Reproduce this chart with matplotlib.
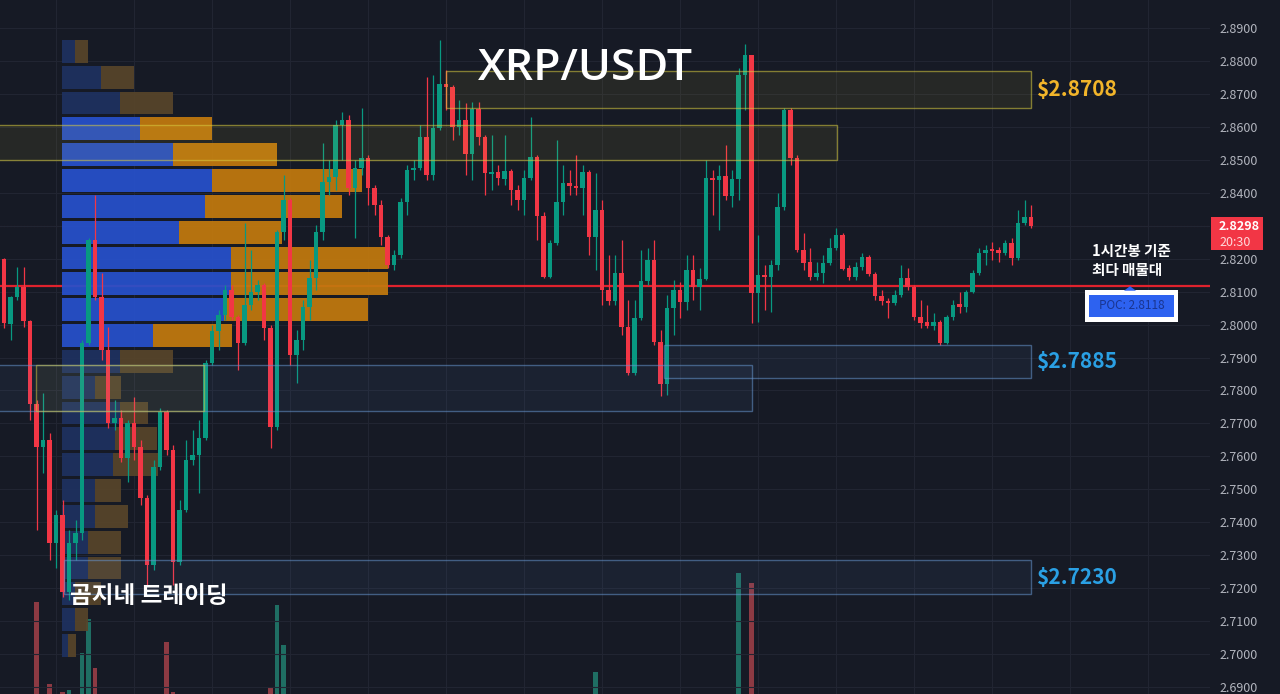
import numpy as np
import matplotlib
matplotlib.use("Agg")
import matplotlib.pyplot as plt
from matplotlib.patches import Rectangle, Polygon
from matplotlib.ticker import FormatStrFormatter
from matplotlib.transforms import blended_transform_factory

plt.rcParams['font.family'] = ['Noto Sans CJK KR', 'DejaVu Sans']

# ---- 1h XRP/USDT candles ----
opens = [2.8199, 2.8002, 2.8084, 2.8114, 2.8011, 2.7759, 2.7628, 2.7650, 2.7338, 2.7422,
         2.7189, 2.7338, 2.7368, 2.7944, 2.8257, 2.8084, 2.7923, 2.7701, 2.7716, 2.7595,
         2.7701, 2.7628, 2.7474, 2.7271, 2.7568, 2.7735, 2.7619, 2.7280, 2.7438, 2.7589,
         2.7604, 2.7656, 2.7884, 2.7981, 2.8029, 2.8105, 2.8023, 2.7944, 2.8060, 2.8099,
         2.8120, 2.7990, 2.7689, 2.8281, 2.8378, 2.7908, 2.7954, 2.8054, 2.8141, 2.8281,
         2.8433, 2.8448, 2.8606, 2.8621, 2.8415, 2.8476, 2.8506, 2.8415, 2.8363, 2.8266,
         2.8181, 2.8211, 2.8372, 2.8470, 2.8476, 2.8570, 2.8454, 2.8597, 2.8730, 2.8721,
         2.8600, 2.8621, 2.8518, 2.8655, 2.8570, 2.8458, 2.8464, 2.8442, 2.8467, 2.8409,
         2.8378, 2.8445, 2.8509, 2.8329, 2.8144, 2.8248, 2.8372, 2.8430, 2.8421, 2.8415,
         2.8464, 2.8266, 2.8348, 2.8105, 2.8072, 2.8157, 2.7993, 2.7854, 2.8020, 2.8132,
         2.8196, 2.7948, 2.7820, 2.8051, 2.8105, 2.8069, 2.8166, 2.8114, 2.8138, 2.8445,
         2.8439, 2.8451, 2.8391, 2.8442, 2.8757, 2.8818, 2.8096, 2.8150, 2.8144, 2.8181,
         2.8357, 2.8652, 2.8506, 2.8226, 2.8190, 2.8144, 2.8157, 2.8187, 2.8232, 2.8272,
         2.8172, 2.8144, 2.8175, 2.8205, 2.8154, 2.8087, 2.8072, 2.8066, 2.8090, 2.8141,
         2.8114, 2.8023, 2.8008, 2.7996, 2.8008, 2.7944, 2.8023, 2.8063, 2.8054, 2.8099,
         2.8157, 2.8217, 2.8229, 2.8226, 2.8217, 2.8248, 2.8202, 2.8308, 2.8326]
highs = [2.8202, 2.8087, 2.8175, 2.8175, 2.8014, 2.7771, 2.7793, 2.7671, 2.7438, 2.7468,
         2.7377, 2.7407, 2.7954, 2.8263, 2.8394, 2.8157, 2.7993, 2.7771, 2.7741, 2.7710,
         2.7781, 2.7650, 2.7483, 2.7589, 2.7747, 2.7741, 2.7634, 2.7468, 2.7650, 2.7680,
         2.7710, 2.7893, 2.7999, 2.8045, 2.8120, 2.8120, 2.8029, 2.8308, 2.8226, 2.8135,
         2.8126, 2.7999, 2.8287, 2.8454, 2.8385, 2.7984, 2.8075, 2.8196, 2.8302, 2.8551,
         2.8500, 2.8621, 2.8646, 2.8636, 2.8500, 2.8658, 2.8515, 2.8424, 2.8378, 2.8272,
         2.8226, 2.8385, 2.8485, 2.8500, 2.8606, 2.8751, 2.8757, 2.8864, 2.8773, 2.8727,
         2.8682, 2.8673, 2.8676, 2.8676, 2.8576, 2.8576, 2.8485, 2.8576, 2.8473, 2.8424,
         2.8470, 2.8630, 2.8515, 2.8342, 2.8257, 2.8561, 2.8485, 2.8470, 2.8515, 2.8485,
         2.8470, 2.8461, 2.8378, 2.8211, 2.8211, 2.8257, 2.8075, 2.8075, 2.8226, 2.8232,
         2.8257, 2.7984, 2.8090, 2.8135, 2.8129, 2.8211, 2.8211, 2.8172, 2.8500, 2.8470,
         2.8485, 2.8545, 2.8470, 2.8779, 2.8851, 2.8818, 2.8272, 2.8181, 2.8196, 2.8400,
         2.8658, 2.8658, 2.8515, 2.8278, 2.8232, 2.8190, 2.8211, 2.8263, 2.8293, 2.8278,
         2.8181, 2.8190, 2.8217, 2.8211, 2.8160, 2.8105, 2.8081, 2.8105, 2.8181, 2.8172,
         2.8120, 2.8075, 2.8060, 2.8036, 2.8014, 2.8029, 2.8075, 2.8099, 2.8105, 2.8166,
         2.8232, 2.8241, 2.8251, 2.8235, 2.8257, 2.8263, 2.8348, 2.8378, 2.8363]
lows = [2.7990, 2.7954, 2.8075, 2.7993, 2.7710, 2.7377, 2.7549, 2.7286, 2.7262, 2.7174,
        2.7164, 2.7286, 2.7347, 2.7938, 2.8075, 2.7893, 2.7686, 2.7680, 2.7583, 2.7522,
        2.7589, 2.7453, 2.7210, 2.7256, 2.7559, 2.7604, 2.7210, 2.7271, 2.7432, 2.7574,
        2.7489, 2.7650, 2.7878, 2.7923, 2.8014, 2.8014, 2.7863, 2.7938, 2.8045, 2.8075,
        2.7954, 2.7625, 2.7680, 2.8257, 2.7878, 2.7823, 2.7923, 2.8014, 2.8105, 2.8257,
        2.8394, 2.8409, 2.8500, 2.8394, 2.8263, 2.8454, 2.8363, 2.8332, 2.8241, 2.8172,
        2.8166, 2.8202, 2.8332, 2.8439, 2.8470, 2.8439, 2.8439, 2.8591, 2.8652, 2.8561,
        2.8576, 2.8454, 2.8439, 2.8545, 2.8394, 2.8409, 2.8424, 2.8424, 2.8363, 2.8348,
        2.8332, 2.8439, 2.8257, 2.8141, 2.8141, 2.8241, 2.8332, 2.8394, 2.8394, 2.8332,
        2.8211, 2.8166, 2.8060, 2.8060, 2.8060, 2.7969, 2.7848, 2.7848, 2.8014, 2.8120,
        2.7938, 2.7784, 2.7787, 2.7969, 2.8020, 2.8045, 2.8075, 2.8045, 2.8135, 2.8332,
        2.8287, 2.8378, 2.8357, 2.8378, 2.8652, 2.8005, 2.8008, 2.8045, 2.8039, 2.8166,
        2.8348, 2.8485, 2.8220, 2.8166, 2.8135, 2.8135, 2.8126, 2.8181, 2.8226, 2.8166,
        2.8135, 2.8135, 2.8166, 2.8148, 2.8075, 2.8060, 2.8020, 2.8060, 2.8084, 2.8105,
        2.8014, 2.7990, 2.7990, 2.7984, 2.7938, 2.7941, 2.8014, 2.8036, 2.8039, 2.8096,
        2.8150, 2.8181, 2.8196, 2.8190, 2.8211, 2.8181, 2.8196, 2.8302, 2.8293]
closes = [2.8005, 2.8084, 2.8114, 2.8011, 2.7759, 2.7628, 2.7650, 2.7338, 2.7422, 2.7189,
          2.7338, 2.7368, 2.7944, 2.8257, 2.8084, 2.7923, 2.7701, 2.7716, 2.7595, 2.7701,
          2.7628, 2.7474, 2.7271, 2.7568, 2.7735, 2.7619, 2.7280, 2.7438, 2.7589, 2.7604,
          2.7656, 2.7884, 2.7981, 2.8029, 2.8105, 2.8023, 2.7944, 2.8060, 2.8099, 2.8120,
          2.7990, 2.7689, 2.8281, 2.8378, 2.7908, 2.7954, 2.8054, 2.8141, 2.8281, 2.8433,
          2.8448, 2.8606, 2.8621, 2.8415, 2.8476, 2.8506, 2.8415, 2.8363, 2.8266, 2.8181,
          2.8211, 2.8372, 2.8470, 2.8476, 2.8570, 2.8454, 2.8597, 2.8730, 2.8721, 2.8600,
          2.8621, 2.8518, 2.8655, 2.8570, 2.8461, 2.8464, 2.8445, 2.8467, 2.8409, 2.8378,
          2.8445, 2.8509, 2.8329, 2.8144, 2.8248, 2.8372, 2.8430, 2.8421, 2.8415, 2.8464,
          2.8266, 2.8348, 2.8105, 2.8072, 2.8157, 2.7993, 2.7854, 2.8020, 2.8132, 2.8196,
          2.7948, 2.7820, 2.8051, 2.8105, 2.8069, 2.8166, 2.8114, 2.8138, 2.8445, 2.8439,
          2.8451, 2.8391, 2.8442, 2.8757, 2.8818, 2.8096, 2.8150, 2.8144, 2.8181, 2.8357,
          2.8652, 2.8506, 2.8226, 2.8187, 2.8144, 2.8157, 2.8187, 2.8232, 2.8272, 2.8169,
          2.8144, 2.8175, 2.8205, 2.8154, 2.8087, 2.8072, 2.8066, 2.8090, 2.8141, 2.8114,
          2.8023, 2.8005, 2.7996, 2.8008, 2.7944, 2.8023, 2.8060, 2.8054, 2.8099, 2.8157,
          2.8217, 2.8226, 2.8223, 2.8217, 2.8248, 2.8202, 2.8308, 2.8326, 2.8298]
last_time = "20:30"

# volume of the bars that rise into the price pane (M XRP)
vol_idx = [5, 7, 9, 10, 12, 13, 14, 25, 26, 41, 42, 43, 91, 113, 115]
vol_val = [9.2, 1.0, 0.2, 0.4, 4.1, 7.5, 2.6, 5.2, 0.2, 0.6, 8.9, 4.9, 2.2, 12.1, 11.1]

# ---- session volume profile, rows from the top price bin downward ----
vp_top = 2.8864
vp_step = 0.00784
vp_buy = [13, 39, 58, 78, 111, 150, 143, 117, 169, 169, 162, 91,
          58, 33, 58, 53, 51, 33, 33, 26, 26, 13, 13, 6]
vp_sell = [13, 33, 53, 72, 104, 150, 137, 103, 157, 157, 144, 79,
           53, 26, 28, 42, 45, 26, 33, 33, 33, 26, 13, 8]
value_area_rows = range(3, 12)
poc = 2.8118

# ---- supply / demand zones: (first bar, last bar, top, bottom) ----
supply_zones = [(68, 158, 2.8770, 2.8657), (None, 128.2, 2.8606, 2.8499)]
demand_zones = [(101.5, 158, 2.7938, 2.7838), (None, 115.1, 2.7877, 2.7738),
                (9.2, 158, 2.7285, 2.7182)]
zone_labels = [("$2.8708", 2.8713, '#f2b52a'), ("$2.7885", 2.7888, '#2aa0e4'),
               ("$2.7230", 2.7234, '#2aa0e4')]
box_zone = (4.9, 30.8, 2.7877, 2.7738)

BG = '#161a25'
GRID = '#212532'
GREEN = '#089981'
RED = '#f23645'

W, H = 1280, 694
fig = plt.figure(figsize=(W / 100, H / 100), dpi=100, facecolor=BG)
plot_w = 1210
ax = fig.add_axes([0, 0, plot_w / W, 1])
ax.set_facecolor(BG)

bar_px = 6.5
x0 = -4 / bar_px
y_lo, y_hi = 2.6879, 2.8985
px = (y_hi - y_lo) / H  # price per pixel

o = np.array(opens); hi = np.array(highs); lo = np.array(lows); c = np.array(closes)
n = len(c)
x = np.arange(n)

# grid
ax.set_yticks(np.round(np.arange(2.69, 2.8901, 0.01), 2))
ax.yaxis.set_major_formatter(FormatStrFormatter('%.4f'))
ax.set_xticks(np.arange(8, 190, 12))
ax.grid(True, color=GRID, lw=0.8, zorder=0)
ax.yaxis.tick_right()
ax.tick_params(axis='x', length=0, labelbottom=False)
ax.tick_params(axis='y', length=0, pad=7, labelsize=9, labelcolor='#b2b5be')
for s in ax.spines.values():
    s.set_visible(False)

# current price dotted line
ax.axhline(c[-1], color=RED, lw=0.8, ls=(0, (1, 2)), alpha=0.45, zorder=1)
# POC line
ax.axhline(poc, color='#e0222d', lw=1.6, zorder=2)

# volume bars (price pane overlay)
vtr = blended_transform_factory(ax.transData, ax.transAxes)
for i, v in zip(vol_idx, vol_val):
    col = '#1f6e63' if c[i] >= o[i] else '#8c3a43'
    ax.add_patch(Rectangle((i - 0.38, 0), 0.76, v / 69.4, transform=vtr,
                           facecolor=col, lw=0, zorder=1.5))

# volume profile
ptr = blended_transform_factory(ax.transAxes, ax.transData)
vp_x0 = 62 / plot_w
vp_scale = (326 / plot_w) / max(b + s for b, s in zip(vp_buy, vp_sell))
for k, (b, s) in enumerate(zip(vp_buy, vp_sell)):
    top = vp_top - k * vp_step
    hgt = vp_step * 0.885
    bright = k in value_area_rows
    cb = '#2751cc' if bright else '#1e3160'
    cs = '#c27a0e' if bright else '#57452a'
    ax.add_patch(Rectangle((vp_x0, top - hgt), b * vp_scale, hgt, transform=ptr,
                           facecolor=cb, lw=0, alpha=0.93, zorder=2.5))
    ax.add_patch(Rectangle((vp_x0 + b * vp_scale, top - hgt), s * vp_scale, hgt,
                           transform=ptr, facecolor=cs, lw=0, alpha=0.93, zorder=2.5))

# candles
up = c >= o
cols = np.where(up, GREEN, RED)
ax.vlines(x, lo, hi, colors=cols, lw=0.9, zorder=3)
ax.bar(x, np.maximum(np.abs(c - o), 0.0004), bottom=np.minimum(o, c), width=0.76,
       color=cols, lw=0, zorder=3.1)

# zones
xmin = x0 - 1
for a, b, t, btm in supply_zones:
    a = xmin if a is None else a
    ax.add_patch(Rectangle((a, btm), b - a, t - btm, facecolor=(1, 0.92, 0.25, 0.07),
                           edgecolor=(0.85, 0.8, 0.25, 0.55), lw=1.0, zorder=4))
for a, b, t, btm in demand_zones:
    a = xmin if a is None else a
    ax.add_patch(Rectangle((a, btm), b - a, t - btm, facecolor=(0.45, 0.65, 0.95, 0.06),
                           edgecolor=(0.4, 0.58, 0.8, 0.55), lw=1.0, zorder=4))
a, b, t, btm = box_zone
ax.add_patch(Rectangle((a, btm), b - a, t - btm, facecolor=(1, 0.92, 0.25, 0.05),
                       edgecolor=(0.85, 0.8, 0.25, 0.5), lw=1.0, zorder=4))

for txt, yv, col in zone_labels:
    ax.text((1037 - 4) / bar_px, yv, txt, color=col, fontsize=15, fontweight='bold',
            ha='left', va='center', zorder=6)

# last price tag
tr = blended_transform_factory(ax.transAxes, ax.transData)
ax.add_patch(Rectangle((1211 / plot_w, c[-1] - 24 * px), 52 / plot_w, 33 * px,
                       transform=tr, facecolor=RED, lw=0, zorder=7, clip_on=False))
ax.text(1219 / plot_w, c[-1], f"{c[-1]:.4f}", transform=tr, color='white', fontsize=9,
        fontweight='bold', ha='left', va='center', zorder=8, clip_on=False)
ax.text(1219 / plot_w, c[-1] - 16 * px, last_time, transform=tr, color='#ffd9dc',
        fontsize=9, ha='left', va='center', zorder=8, clip_on=False)

# POC callout
ax.text((1092 - 4) / bar_px, poc + 25 * px, "1시간봉 기준\n최다 매물대", color='white',
        fontsize=10.5, fontweight='bold', ha='left', va='center', linespacing=1.25,
        zorder=8)
bx0, bx1 = (1085 - 4) / bar_px, (1178 - 4) / bar_px
ax.add_patch(Rectangle((bx0, poc - 36 * px), bx1 - bx0, 32 * px, facecolor='white',
                       lw=0, zorder=7))
ix0, ix1 = (1089 - 4) / bar_px, (1174 - 4) / bar_px
ax.add_patch(Rectangle((ix0, poc - 31 * px), ix1 - ix0, 22 * px, facecolor='#2d62f0',
                       lw=0, zorder=7.5))
ax.add_patch(Polygon([((1124 - 4) / bar_px, poc - 5 * px), ((1136 - 4) / bar_px, poc - 5 * px),
                      ((1130 - 4) / bar_px, poc - 0.5 * px)], closed=True,
                     facecolor='#2d62f0', lw=0, zorder=7.5))
ax.text((ix0 + ix1) / 2, poc - 20 * px, f"POC: {poc:.4f}", color='#1a3590', fontsize=8.5,
        ha='center', va='center', zorder=8)

# view limits are fixed last so the tick setup cannot widen them
ax.set_xlim(x0, x0 + plot_w / bar_px)
ax.set_ylim(y_lo, y_hi)

# titles
fig.text(585 / W, 1 - 69 / H, "XRP/USDT", color='white', fontsize=32, fontweight=600,
         ha='center', va='center', family=['Open Sans', 'DejaVu Sans'], zorder=10)
fig.text(70 / W, 1 - 596 / H, "곰지네 트레이딩", color='white', fontsize=17,
         fontweight='bold', ha='left', va='center', zorder=10)

fig.savefig("out.png", dpi=100, facecolor=BG)
